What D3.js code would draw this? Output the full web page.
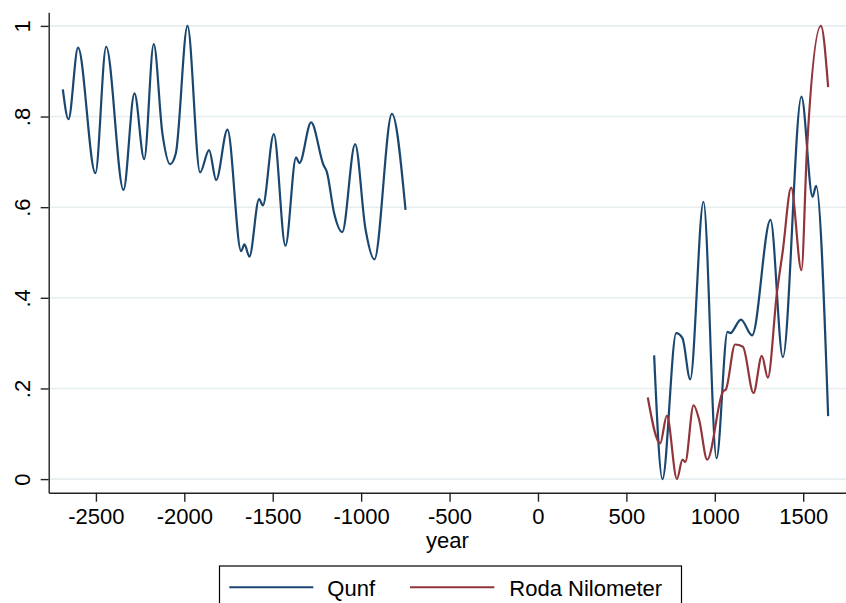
<!DOCTYPE html>
<html>
<head>
<meta charset="utf-8">
<script src="https://cdn.jsdelivr.net/npm/d3@7"></script>
<style>
  body { margin: 0; background: #fff; }
  text { font-family: "Liberation Sans", Helvetica, Arial, sans-serif; }
</style>
</head>
<body>
<script>
// data
const qunfYears = [-2687, -2655, -2601, -2503, -2442, -2344, -2282, -2227, -2173, -2124, -2080, -2048,
  -1982, -1911, -1860, -1820, -1756, -1679, -1660, -1632, -1577, -1556, -1494, -1428, -1368, -1349,
  -1283, -1213, -1194, -1153, -1107, -1034, -976, -925, -826, -749,
  null,
  657, 704, 782, 817, 861, 936, 1010, 1072, 1087, 1148, 1211, 1315, 1385, 1490, 1553, 1573, 1641];
const qunfValues = [0.86, 0.794, 0.952, 0.675, 0.954, 0.638, 0.851, 0.706, 0.96, 0.763, 0.695, 0.719,
  1.0, 0.677, 0.726, 0.66, 0.771, 0.503, 0.518, 0.491, 0.618, 0.604, 0.761, 0.515, 0.71, 0.697,
  0.787, 0.693, 0.678, 0.587, 0.545, 0.739, 0.553, 0.485, 0.806, 0.594,
  null,
  0.273, 0.0, 0.322, 0.311, 0.22, 0.612, 0.046, 0.325, 0.322, 0.352, 0.317, 0.572, 0.269, 0.844, 0.623, 0.647, 0.139];

const rodaYears = [621, 691, 729, 786, 817, 833, 880, 912, 957, 1046, 1063, 1115, 1159, 1219, 1266, 1300,
  1351, 1385, 1432, 1490, 1521, 1600, 1641];
const rodaValues = [0.18, 0.079, 0.14, 0.0, 0.043, 0.038, 0.163, 0.13, 0.043, 0.193, 0.198, 0.297, 0.292, 0.19, 0.272, 0.224,
  0.41, 0.505, 0.643, 0.461, 0.726, 1.0, 0.865];

const xTicks = [-2500, -2000, -1500, -1000, -500, 0, 500, 1000, 1500];
const yTicks = [0, 0.2, 0.4, 0.6, 0.8, 1];
const seriesNames = ["Qunf", "Roda Nilometer"];
const seriesColors = ["#1a476f", "#90353b"];

// layout
const W = 846, H = 603;
const plot = {left: 48.7, right: 846, top: 12.3, bottom: 492.7};
const FONT = 22;

const svg = d3.select("body").append("svg")
    .attr("width", W)
    .attr("height", H);

const xScale = d3.scaleLinear().domain([-2767, 1742]).range([plot.left, plot.right]);
const yScale = d3.scaleLinear().domain([-0.03, 1.03]).range([plot.bottom, plot.top]);

// gridlines
svg.append("g")
    .selectAll("line")
    .data(yTicks)
    .enter()
    .append("line")
    .attr("x1", plot.left)
    .attr("x2", plot.right)
    .attr("y1", function(d) { return yScale(d); })
    .attr("y2", function(d) { return yScale(d); })
    .style("stroke", "#e6eef0")
    .style("stroke-width", 1.6);

// stata style labels: 0 .2 .4 ... 1
function yFmt(d) {
    if (d === 0) return "0";
    if (d === 1) return "1";
    return d3.format(".1f")(d).replace("0.", ".");
}

// y axis
const yAxis = d3.axisLeft(yScale).tickValues(yTicks).tickFormat(yFmt).tickSize(8).tickSizeOuter(0);
const gy = svg.append("g")
    .attr("transform", "translate(" + plot.left + ",0)")
    .call(yAxis);
gy.selectAll("text")
    .attr("x", null)
    .attr("dy", null)
    .attr("text-anchor", "middle")
    .attr("transform", "translate(-18.7,0) rotate(-90)")
    .style("font-size", FONT + "px")
    .style("fill", "#000");

// x axis (plain hyphen for negatives)
const xAxis = d3.axisBottom(xScale).tickValues(xTicks)
    .tickFormat(function(d) { return String(d); })
    .tickSize(9).tickSizeOuter(0);
const gx = svg.append("g")
    .attr("transform", "translate(0," + plot.bottom + ")")
    .call(xAxis);
gx.selectAll("text")
    .attr("y", 31.6)
    .attr("dy", null)
    .style("font-size", FONT + "px")
    .style("fill", "#000");

svg.selectAll(".domain, .tick line")
    .style("stroke", "#222")
    .style("stroke-width", 1.4);

// x axis title
svg.append("text")
    .attr("x", (plot.left + plot.right) / 2)
    .attr("y", 547.7)
    .attr("text-anchor", "middle")
    .style("font-size", FONT + "px")
    .text("year");

// lines
const line = d3.line()
    .defined(function(d) { return d[0] !== null && d[1] !== null; })
    .x(function(d) { return xScale(d[0]); })
    .y(function(d) { return yScale(d[1]); })
    .curve(d3.curveMonotoneX);

const qunfData = qunfYears.map(function(y, i) { return [y, qunfValues[i]]; });
const rodaData = rodaYears.map(function(y, i) { return [y, rodaValues[i]]; });

svg.append("path")
    .datum(qunfData)
    .attr("d", line)
    .style("fill", "none")
    .style("stroke", seriesColors[0])
    .style("stroke-width", 2.2);

svg.append("path")
    .datum(rodaData)
    .attr("d", line)
    .style("fill", "none")
    .style("stroke", seriesColors[1])
    .style("stroke-width", 2.2);

// legend
svg.append("rect")
    .attr("x", 219.5)
    .attr("y", 566)
    .attr("width", 462)
    .attr("height", 60)
    .style("fill", "#fff")
    .style("stroke", "#000")
    .style("stroke-width", 1.2);

const legendItems = [
    {x1: 229.3, x2: 313.3, tx: 327.3},
    {x1: 410, x2: 494.3, tx: 509.3}
];
legendItems.forEach(function(it, i) {
    svg.append("line")
        .attr("x1", it.x1)
        .attr("x2", it.x2)
        .attr("y1", 587.3)
        .attr("y2", 587.3)
        .style("stroke", seriesColors[i])
        .style("stroke-width", 2);
    svg.append("text")
        .attr("x", it.tx)
        .attr("y", 595.5)
        .style("font-size", FONT + "px")
        .text(seriesNames[i]);
});
</script>
</body>
</html>
